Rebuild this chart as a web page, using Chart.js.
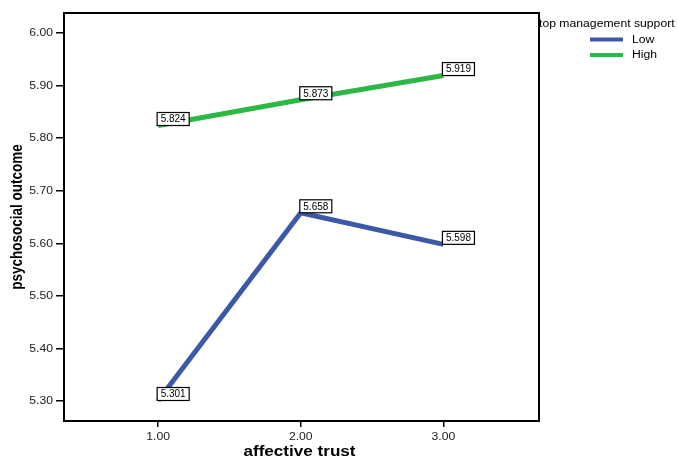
<!DOCTYPE html>
<html>
<head>
<meta charset="utf-8">
<script src="https://cdn.jsdelivr.net/npm/chart.js@4"></script>
<style>
  body { margin: 0; background: #fff; }
  canvas { display: block; }
</style>
</head>
<body>
<canvas id="chart" width="678" height="461"></canvas>
<script>
const trustLevels = [1, 2, 3];
const lowValues = [5.301, 5.658, 5.598];
const highValues = [5.824, 5.873, 5.919];
const yTicks = [5.3, 5.4, 5.5, 5.6, 5.7, 5.8, 5.9, 6.0];
const xTicks = [1, 2, 3];
const seriesNames = ["Low", "High"];
const legendTitle = "top management support";

const FONT = "'Liberation Sans', Arial, sans-serif";
const SX = 1.22; // the original picture is a bit wider than tall

const toPoints = (vals) => vals.map((v, i) => ({ x: trustLevels[i], y: v }));

// draw text squeezed/stretched horizontally like the source image
function wideText(ctx, txt, x, y, align) {
  ctx.save();
  ctx.translate(x, y);
  ctx.scale(SX, 1);
  ctx.textAlign = align;
  ctx.fillText(txt, 0, 0);
  ctx.restore();
}

const extras = {
  id: "extras",
  afterDraw(chart) {
    const { ctx, chartArea: a, scales } = chart;
    ctx.save();
    // frame
    ctx.strokeStyle = "#000";
    ctx.lineWidth = 2;
    ctx.strokeRect(a.left, a.top, a.right - a.left, a.bottom - a.top);

    // tick labels
    ctx.fillStyle = "#222";
    ctx.font = "10px " + FONT;
    ctx.textBaseline = "middle";
    yTicks.forEach((v) => {
      wideText(ctx, v.toFixed(2), 53, scales.y.getPixelForValue(v) + 0.5, "right");
    });
    xTicks.forEach((v) => {
      wideText(ctx, v.toFixed(2), scales.x.getPixelForValue(v), 437, "center");
    });

    // value labels
    ctx.font = "10px " + FONT;
    ctx.textAlign = "left";
    chart.data.datasets.forEach((ds) => {
      ds.data.forEach((p) => {
        const px = scales.x.getPixelForValue(p.x);
        const py = scales.y.getPixelForValue(p.y);
        const txt = p.y.toFixed(3);
        const w = ctx.measureText(txt).width + 7;
        const h = 13;
        const bx = px - 1, by = py - h;
        ctx.fillStyle = "#fff";
        ctx.fillRect(bx, by, w, h);
        ctx.strokeStyle = "#000";
        ctx.lineWidth = 1.2;
        ctx.strokeRect(bx, by, w, h);
        ctx.fillStyle = "#000";
        ctx.fillText(txt, bx + 3.5, by + h / 2 + 0.5);
      });
    });

    // axis titles
    ctx.fillStyle = "#000";
    ctx.font = "bold 14px " + FONT;
    wideText(ctx, "affective trust", (a.left + a.right) / 2 - 2, 452, "center");
    ctx.save();
    ctx.font = "bold 13.5px " + FONT;
    ctx.translate(17, (a.top + a.bottom) / 2);
    ctx.scale(SX, 1);
    ctx.rotate(-Math.PI / 2);
    ctx.textAlign = "center";
    ctx.fillText("psychosocial outcome", 0, 0);
    ctx.restore();

    // legend
    ctx.font = "10px " + FONT;
    ctx.fillStyle = "#000";
    wideText(ctx, legendTitle, 539, 24, "left");
    chart.data.datasets.forEach((ds, i) => {
      const y = 39.5 + i * 15.5;
      ctx.strokeStyle = ds.borderColor;
      ctx.lineWidth = 4;
      ctx.beginPath();
      ctx.moveTo(590, y);
      ctx.lineTo(623, y);
      ctx.stroke();
      ctx.fillStyle = "#000";
      wideText(ctx, ds.label, 632, y + 0.5, "left");
    });
    ctx.restore();
  },
};

new Chart(document.getElementById("chart"), {
  type: "line",
  data: {
    datasets: [
      {
        label: seriesNames[0],
        data: toPoints(lowValues),
        borderColor: "#3c59a8",
        borderWidth: 5,
        pointRadius: 0,
        tension: 0,
      },
      {
        label: seriesNames[1],
        data: toPoints(highValues),
        borderColor: "#2db846",
        borderWidth: 5,
        pointRadius: 0,
        tension: 0,
      },
    ],
  },
  options: {
    responsive: false,
    animation: false,
    layout: { padding: { left: 0, top: 13, right: 139, bottom: 0 } },
    plugins: { legend: { display: false }, tooltip: { enabled: false } },
    scales: {
      x: {
        type: "linear",
        min: 0.34,
        max: 3.67,
        afterFit: (s) => { s.height = 40; },
        afterBuildTicks: (s) => { s.ticks = xTicks.map((v) => ({ value: v })); },
        grid: { drawOnChartArea: false, tickLength: 6, color: "#000", lineWidth: 1.5 },
        border: { color: "#000", width: 2 },
        ticks: { display: false },
      },
      y: {
        min: 5.262,
        max: 6.038,
        afterFit: (s) => { s.width = 64; },
        afterBuildTicks: (s) => { s.ticks = yTicks.map((v) => ({ value: v })); },
        grid: { drawOnChartArea: false, tickLength: 8, color: "#000", lineWidth: 1.5 },
        border: { color: "#000", width: 2 },
        ticks: { display: false },
      },
    },
  },
  plugins: [extras],
});
</script>
</body>
</html>
